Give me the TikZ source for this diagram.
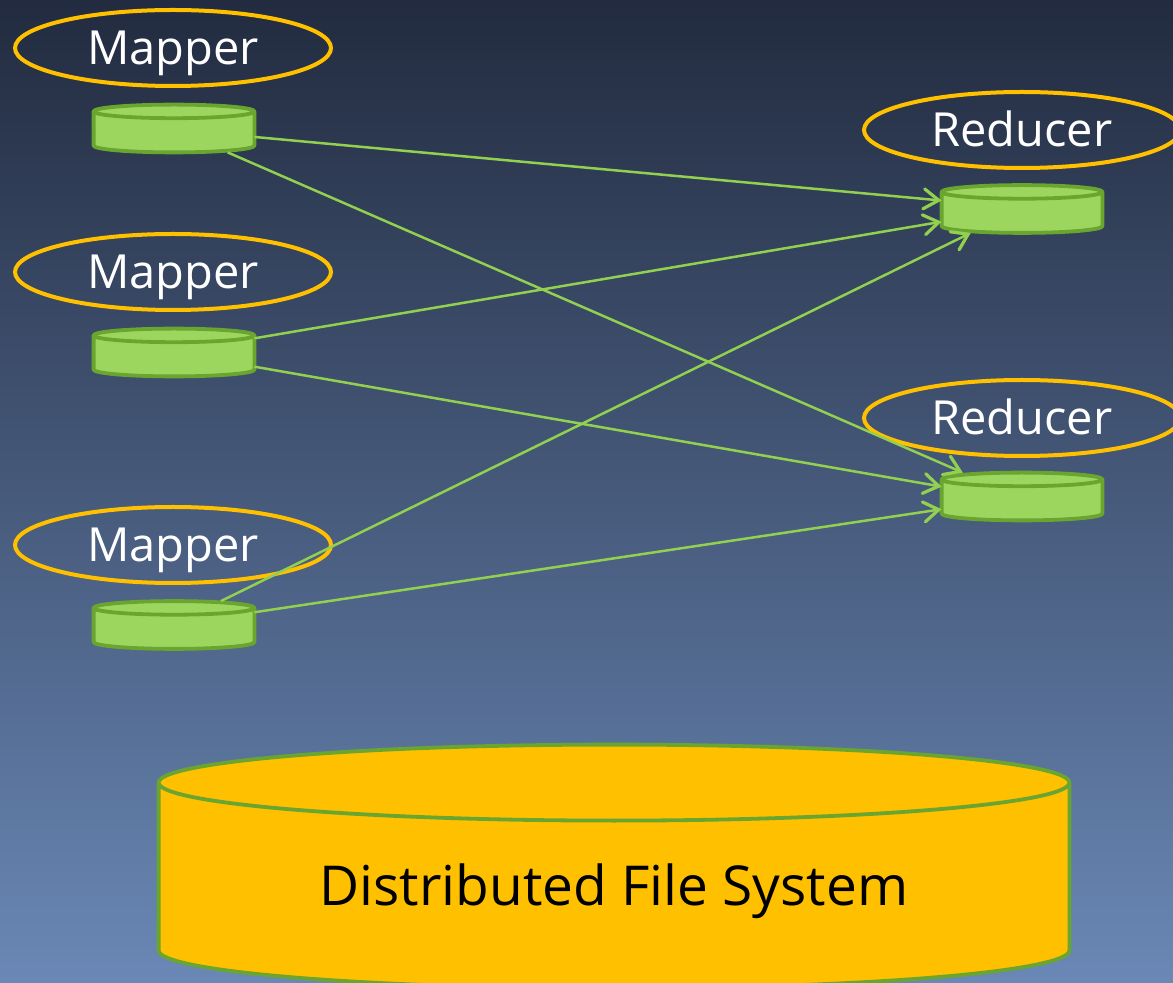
\documentclass[tikz,border=0pt]{standalone}
\usepackage{fontspec}
\setmainfont{Open Sans}
\usepackage{tikz}
\usetikzlibrary{arrows.meta, positioning, shapes.geometric, calc, backgrounds}

\definecolor{bgtop}{HTML}{222B3F}
\definecolor{bgbottom}{HTML}{6A88B6}
\definecolor{ringgold}{HTML}{FFC000}
\definecolor{diskgreen}{HTML}{9DD65F}
\definecolor{diskedge}{HTML}{6AA530}
\definecolor{flowgreen}{HTML}{92D050}

% cylinder outline round a named box: node, fill, end radius
\newcommand{\drawdisk}[3]{%
  \draw[diskline, fill=#2] let \p1=(#1.north west), \p2=(#1.south east), \n1={(\x2-\x1)/2} in
    (\x1,\y1-#3) -- (\x1,\y2+#3) arc[start angle=180, end angle=360, x radius=\n1, y radius=#3]
    -- (\x2,\y1-#3) arc[start angle=0, end angle=180, x radius=\n1, y radius=#3] -- cycle
    (\x1,\y1-#3) arc[start angle=180, end angle=360, x radius=\n1, y radius=#3];
}

\begin{document}
\begin{tikzpicture}[
    x=0.5pt, y=-0.5pt,
    worker/.style={ellipse, draw=ringgold, line width=2pt, minimum width=158pt, minimum height=38pt, text=white, font=\fontsize{23.5}{28}\selectfont, inner sep=0pt, text height=16.8pt, text depth=0pt},
    disk/.style={minimum width=80pt, minimum height=23.5pt, inner sep=0pt},
    diskline/.style={draw=diskedge, line width=1.9pt, line join=round},
    flow/.style={draw=flowgreen, line width=1.25pt, -{Straight Barb[length=7.5pt, width=10pt, line width=1.6pt, line cap=round]}}
]
\useasboundingbox (0,0) rectangle (1173,983);

% Mappers
\node[worker] (map1) at (173,48) {Mapper};
\node[worker] (map2) at (173,272) {Mapper};
\node[worker] (map3) at (173,545) {Mapper};
\node[disk] (m1c) at (174,128.5) {};
\node[disk] (m2c) at (174,352.5) {};
\node[disk] (m3c) at (174,625) {};

% Reducers
\node[worker] (red1) at (1022,130) {Reducer};
\node[worker] (red2) at (1022,418) {Reducer};
\node[disk] (r1c) at (1022,209) {};
\node[disk] (r2c) at (1022,496.5) {};

\foreach \d in {m1c,m2c,m3c,r1c,r2c}
  \drawdisk{\d}{diskgreen}{3.4pt};

% Shuffle
\draw[flow] (m1c.-6) -- (r1c.174);
\draw[flow] (m1c.-24) -- (r2c.158);
\draw[flow] (m2c.10) -- (r1c.-171);
\draw[flow] (m2c.-10) -- (r2c.173);
\draw[flow] (m3c.27) -- (r1c.-155);
\draw[flow] (m3c.9) -- (r2c.-171);

% Storage
\node[minimum width=455pt, minimum height=121.5pt, inner sep=0pt, text height=38.5pt, text depth=0pt, font=\fontsize{27.5}{32}\selectfont] (dfs) at (614,866.5) {Distributed File System};

\begin{pgfonlayer}{background}
  \shade[top color=bgtop, bottom color=bgbottom] (0,0) rectangle (1173,983);
  \drawdisk{dfs}{ringgold}{19pt}
\end{pgfonlayer}
\end{tikzpicture}
\end{document}
